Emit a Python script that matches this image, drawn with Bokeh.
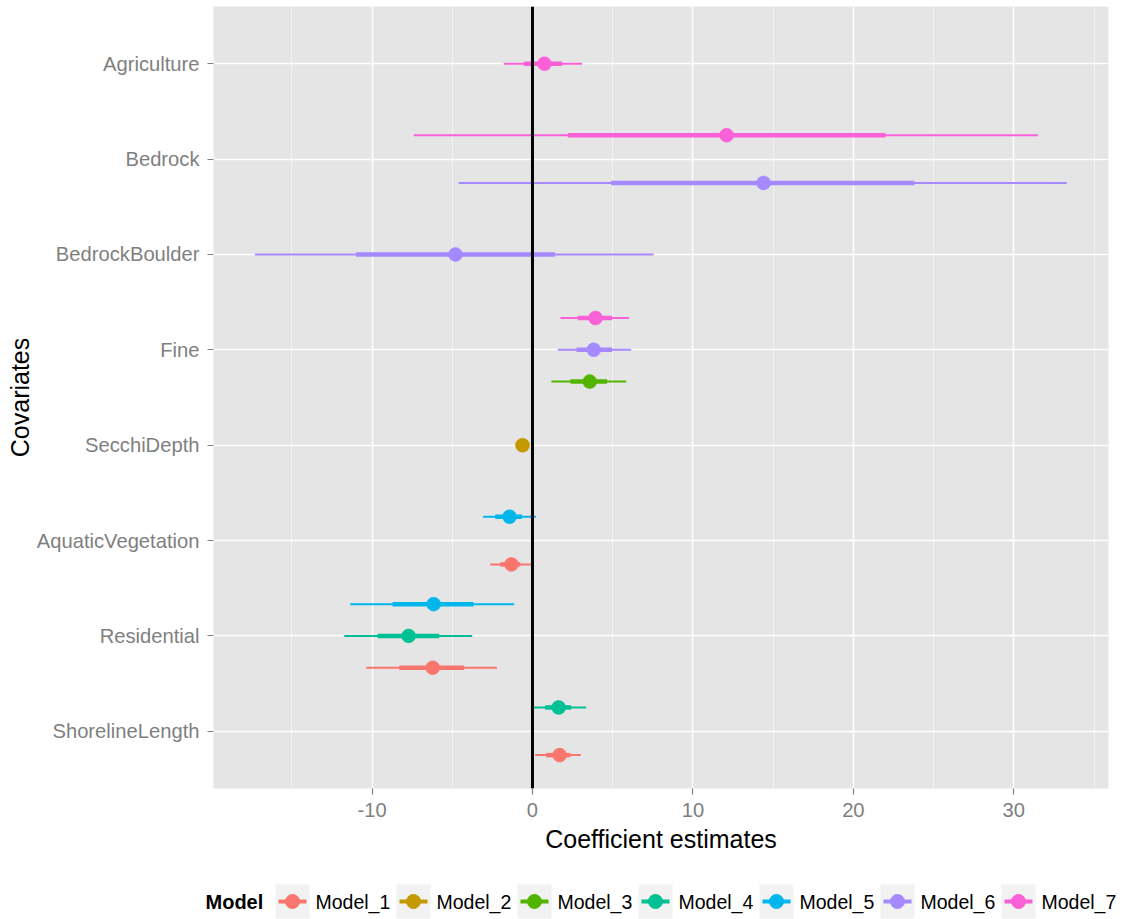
from bokeh.plotting import figure
from bokeh.models import ColumnDataSource, Range1d, FixedTicker, SingleIntervalTicker, Span
from bokeh.embed import file_html
from bokeh.resources import INLINE
from bokeh.core.properties import value

# ---------------- data ----------------
covariates = ["Agriculture", "Bedrock", "BedrockBoulder", "Fine", "SecchiDepth",
              "AquaticVegetation", "Residential", "ShorelineLength"]
models = ["Model_1", "Model_2", "Model_3", "Model_4", "Model_5", "Model_6", "Model_7"]
palette = ["#F8766D", "#C49A00", "#53B400", "#00C094", "#00B6EB", "#A58AFF", "#FB61D7"]

row_model = ["Model_7", "Model_7", "Model_6", "Model_6", "Model_7", "Model_6", "Model_3",
             "Model_2", "Model_5", "Model_1", "Model_5", "Model_4", "Model_1", "Model_4", "Model_1"]
row_covariate = ["Agriculture", "Bedrock", "Bedrock", "BedrockBoulder", "Fine", "Fine", "Fine",
                 "SecchiDepth", "AquaticVegetation", "AquaticVegetation", "Residential",
                 "Residential", "Residential", "ShorelineLength", "ShorelineLength"]
estimate = [0.75, 12.1, 14.4, -4.8, 3.93, 3.82, 3.57, -0.62, -1.43, -1.31, -6.16, -7.72, -6.22, 1.63, 1.69]
inner_low = [-0.54, 2.2, 4.9, -11.0, 2.82, 2.74, 2.37, -0.85, -2.32, -2.01, -8.72, -9.65, -8.30, 0.79, 0.86]
inner_high = [1.85, 22.0, 23.8, 1.4, 4.96, 4.96, 4.65, -0.40, -0.66, -0.77, -3.67, -5.81, -4.26, 2.41, 2.36]
outer_low = [-1.79, -7.4, -4.6, -17.3, 1.74, 1.58, 1.18, -1.05, -3.08, -2.63, -11.36, -11.73, -10.36, -0.10, 0.17]
outer_high = [3.09, 31.5, 33.3, 7.55, 6.02, 6.15, 5.84, -0.20, 0.21, -0.10, -1.14, -3.76, -2.22, 3.34, 3.02]

x_ticks = [-10, 0, 10, 20, 30]

# ---------------- derived positions (dodge) ----------------
dodge_width = 1.0
cat_pos = {c: len(covariates) - i for i, c in enumerate(covariates)}
ypos = []
for m, c in zip(row_model, row_covariate):
    group = sorted([mm for mm, cc in zip(row_model, row_covariate) if cc == c], key=models.index)
    n = len(group)
    i = group.index(m)
    ypos.append(cat_pos[c] + (i - (n - 1) / 2) * dodge_width / n)

color_of = dict(zip(models, palette))
src = ColumnDataSource(dict(
    y=ypos, est=estimate, ilo=inner_low, ihi=inner_high, olo=outer_low, ohi=outer_high,
    color=[color_of[m] for m in row_model], model=row_model,
))

FONT = "Liberation Sans"
GREY = "#7F7F7F"
TICK_SIZE = "20.2px"
TITLE_SIZE = "25px"

p = figure(width=1129, height=860, output_backend="svg", toolbar_location=None,
           x_range=Range1d(-19.88, 35.9), y_range=Range1d(0.4, 8.6),
           min_border_left=213, min_border_right=21, min_border_top=6, min_border_bottom=72)
p.background_fill_color = "#E5E5E5"
p.border_fill_color = "white"
p.outline_line_color = None

# axes
p.xaxis.ticker = SingleIntervalTicker(interval=10, num_minor_ticks=2)
p.xaxis.major_label_overrides = {t: str(t) for t in x_ticks}
p.yaxis.ticker = FixedTicker(ticks=[cat_pos[c] for c in covariates])
p.yaxis.major_label_overrides = {cat_pos[c]: c for c in covariates}
for ax in (p.xaxis, p.yaxis):
    ax.axis_line_color = None
    ax.major_tick_line_color = GREY
    ax.major_tick_line_width = 1.2
    ax.major_tick_out = 6
    ax.major_tick_in = 0
    ax.minor_tick_line_color = None
    ax.major_label_text_color = GREY
    ax.major_label_text_font = FONT
    ax.major_label_text_font_size = TICK_SIZE
    ax.axis_label_text_font = FONT
    ax.axis_label_text_font_size = TITLE_SIZE
    ax.axis_label_text_font_style = "normal"
    ax.axis_label_text_color = "black"
p.xaxis.axis_label = "Coefficient estimates"
p.yaxis.axis_label = "Covariates"
p.xaxis.major_label_standoff = 8
p.xaxis.axis_label_standoff = 5
p.yaxis.major_label_standoff = 8
p.yaxis.axis_label_standoff = 0

# grid
p.xgrid.grid_line_color = "white"
p.xgrid.grid_line_width = 1.5
p.xgrid.minor_grid_line_color = "#F2F2F2"
p.xgrid.minor_grid_line_width = 1
p.ygrid.grid_line_color = "white"
p.ygrid.grid_line_width = 1.5

# glyphs
p.segment(x0="olo", x1="ohi", y0="y", y1="y", source=src, line_color="color", line_width=2)
p.segment(x0="ilo", x1="ihi", y0="y", y1="y", source=src, line_color="color", line_width=4.5)
p.scatter(x="est", y="y", source=src, marker="circle", size=14,
          fill_color="color", line_color="color", line_width=0.5)

p.add_layout(Span(location=0, dimension="height", line_color="black", line_width=3))

# ---------------- legend strip (separate root, own frame = full width) ----------------
leg = figure(width=1129, height=59, output_backend="svg", toolbar_location=None,
             x_range=Range1d(0, 1129), y_range=Range1d(0, 59),
             min_border=0, min_border_left=0, min_border_right=0,
             min_border_top=0, min_border_bottom=0)
leg.axis.visible = False
leg.xgrid.visible = False
leg.ygrid.visible = False
leg.outline_line_color = None
leg.background_fill_color = "white"
leg.border_fill_color = "white"

key_left0 = 275
key_step = 121
key_size = 34
key_y = 18
key_lefts = [key_left0 + i * key_step for i in range(len(models))]
key_cx = [k + key_size / 2 for k in key_lefts]
lsrc = ColumnDataSource(dict(
    cx=key_cx, x0=[k + 3 for k in key_lefts], x1=[k + key_size - 3 for k in key_lefts],
    y=[key_y] * len(models), tx=[k + 40 for k in key_lefts], label=models, color=palette,
))
leg.rect(x="cx", y="y", width=key_size, height=key_size, source=lsrc,
         fill_color="#F2F2F2", line_color=None)
leg.segment(x0="x0", x1="x1", y0="y", y1="y", source=lsrc, line_color="color", line_width=4)
leg.scatter(x="cx", y="y", source=lsrc, marker="circle", size=14,
            fill_color="color", line_color="color")
leg.text(x="tx", y="y", text="label", source=lsrc, text_font=value(FONT),
         text_font_size="19.5px", text_baseline="middle", text_align="left", text_color="black")
leg.text(x=[205], y=[key_y], text=["Model"], text_font=value(FONT), text_font_size="20px",
         text_font_style="bold", text_baseline="middle", text_align="left", text_color="black")

open("out.html", "w").write(file_html([p, leg], INLINE))
